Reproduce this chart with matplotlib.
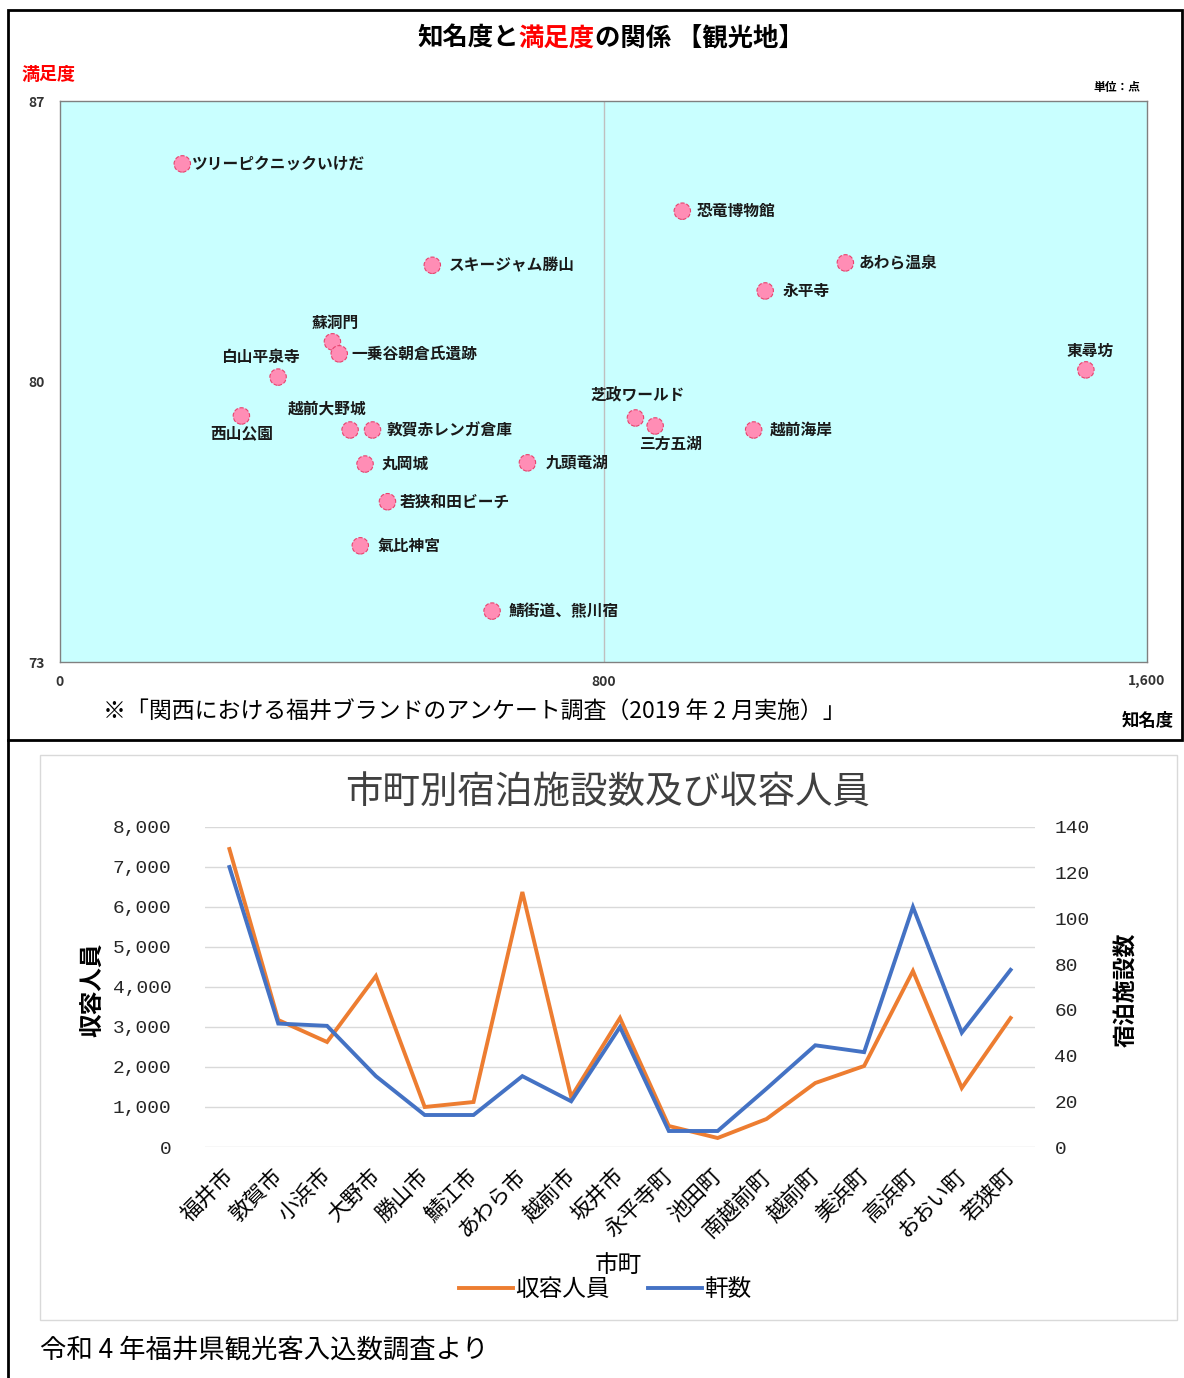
import matplotlib.pyplot as plt
from matplotlib.lines import Line2D
from matplotlib.patches import Rectangle
from matplotlib.text import Annotation
from matplotlib.ticker import FuncFormatter
from matplotlib.transforms import ScaledTranslation

plt.rcParams['font.family'] = ['Noto Sans CJK JP', 'DejaVu Sans']

W, H = 1184, 1378

# --- top chart: awareness vs satisfaction of tourist spots ---
spots = ["ツリーピクニックいけだ", "恐竜博物館", "スキージャム勝山", "あわら温泉", "永平寺",
         "蘇洞門", "一乗谷朝倉氏遺跡", "白山平泉寺", "東尋坊", "西山公園",
         "越前大野城", "敦賀赤レンガ倉庫", "芝政ワールド", "三方五湖", "越前海岸",
         "丸岡城", "九頭竜湖", "若狭和田ビーチ", "氣比神宮", "鯖街道、熊川宿"]
awareness = [180, 916, 548, 1156, 1038,
             401, 411, 321, 1510, 267,
             427, 460, 847, 876, 1021,
             449, 688, 482, 442, 636]
satisfaction = [85.43, 84.25, 82.90, 82.96, 82.26,
                80.99, 80.69, 80.11, 80.29, 79.14,
                78.79, 78.79, 79.09, 78.89, 78.79,
                77.94, 77.97, 77.00, 75.90, 74.27]

# --- bottom chart: lodging by municipality ---
towns = ["福井市", "敦賀市", "小浜市", "大野市", "勝山市", "鯖江市", "あわら市", "越前市",
         "坂井市", "永平寺町", "池田町", "南越前町", "越前町", "美浜町", "高浜町",
         "おおい町", "若狭町"]
capacity = [7450, 3175, 2625, 4275, 1000, 1125, 6375, 1250,
            3225, 525, 225, 700, 1600, 2025, 4400, 1475, 3225]
facilities = [122.5, 54, 53, 31, 14, 14, 31, 20,
              52.5, 7, 7, 25.5, 44.5, 41.5, 105, 50, 77.5]

# label placement for the scatter (pixel offsets from the point, ha)
LABEL_POS = {
    "ツリーピクニックいけだ": (10, 0, "left"),
    "恐竜博物館": (14, 0, "left"),
    "スキージャム勝山": (17, 0, "left"),
    "あわら温泉": (13, 0, "left"),
    "永平寺": (17, 0, "left"),
    "蘇洞門": (3, -19, "center"),
    "一乗谷朝倉氏遺跡": (12, 0, "left"),
    "白山平泉寺": (-18, -20, "center"),
    "東尋坊": (4, -19, "center"),
    "西山公園": (0, 17, "center"),
    "越前大野城": (-23, -21, "center"),
    "敦賀赤レンガ倉庫": (14, 0, "left"),
    "芝政ワールド": (2, -22, "center"),
    "三方五湖": (15, 18, "center"),
    "越前海岸": (16, 0, "left"),
    "丸岡城": (17, 0, "left"),
    "九頭竜湖": (18, 0, "left"),
    "若狭和田ビーチ": (12, 0, "left"),
    "氣比神宮": (17, 0, "left"),
    "鯖街道、熊川宿": (17, 0, "left"),
}


def rect(x0, y0, x1, y1):
    """pixel box (top-left origin) -> figure axes rect"""
    return [x0 / W, 1 - y1 / H, (x1 - x0) / W, (y1 - y0) / H]


def px(x, y):
    return x / W, 1 - y / H


fig = plt.figure(figsize=(W / 100, H / 100), dpi=100)

# outer frames
fig.add_artist(Rectangle(px(8, 740), (1182 - 8) / W, 730 / H, transform=fig.transFigure,
                         fill=False, edgecolor="black", linewidth=2))
fig.add_artist(Line2D([8 / W, 8 / W], [0, 1 - 740 / H], transform=fig.transFigure,
                      color="black", linewidth=2))
fig.add_artist(Rectangle(px(40, 1320), 1137 / W, 565 / H, transform=fig.transFigure,
                         fill=False, edgecolor="#d9d9d9", linewidth=1))

# =============================================================================
# scatter
# =============================================================================
ax = fig.add_axes(rect(60, 101, 1147, 662))
ax.set_facecolor("#c9ffff")
ax.set_xlim(0, 1600)
ax.set_ylim(73, 87)
ax.axvline(800, color="#bfbfbf", linewidth=1, zorder=1)
ax.scatter(awareness, satisfaction, s=140, c="#ff8db5", edgecolors="#e8426e",
           linewidths=0.8, linestyle="--", zorder=3)
for name, x, y in zip(spots, awareness, satisfaction):
    dx, dy, ha = LABEL_POS[name]
    ax.annotate(name, (x, y), xytext=(dx * 0.72, -dy * 0.72), textcoords="offset points",
                ha=ha, va="center", fontsize=11.3, fontweight="bold", color="#1a1a1a", zorder=4)

ax.set_xticks([0, 800, 1600])
ax.set_xticklabels(["0", "800", "1,600"])
ax.set_yticks([73, 80, 87])
ax.tick_params(length=0, labelsize=10, labelcolor="#333333")
ax.tick_params(axis="y", pad=11)
ax.tick_params(axis="x", pad=9)
for t in ax.get_xticklabels() + ax.get_yticklabels():
    t.set_fontweight("bold")
for s in ax.spines.values():
    s.set_color("#808080")
    s.set_linewidth(1)

# title with red middle part
t1 = fig.text(*px(417, 46), "知名度と", fontsize=18.3, fontweight="bold", ha="left", va="baseline")
a2 = fig.add_artist(Annotation("満足度", xy=(1, 0), xycoords=t1, va="bottom", ha="left",
                               fontsize=18.3, fontweight="bold", color="#ff0000"))
fig.add_artist(Annotation("の関係 【観光地】", xy=(1, 0), xycoords=a2, va="bottom", ha="left",
                          fontsize=18.3, fontweight="bold", color="black"))

fig.text(*px(22, 75), "満足度", fontsize=13, fontweight="bold", color="#ff0000", ha="left", va="center")
fig.text(*px(1140, 88), "単位：点", fontsize=8.5, fontweight="bold", ha="right", va="center")
fig.text(*px(1174, 721), "知名度", fontsize=12.5, fontweight="bold", ha="right", va="center")
fig.text(*px(103, 712), "※「関西における福井ブランドのアンケート調査（2019 年 2 月実施）」",
         fontsize=16.5, ha="left", va="center")

# =============================================================================
# lodging line chart
# =============================================================================
ORANGE = "#ed7d31"
BLUE = "#4472c4"
MONO = ["Liberation Mono", "DejaVu Sans Mono"]

bx = fig.add_axes(rect(205, 827, 1035, 1147))
xs = range(len(towns))
bx.plot(xs, capacity, color=ORANGE, linewidth=2.8, solid_joinstyle="miter", label="収容人員")
bx.set_xlim(-0.5, len(towns) - 0.5)
bx.set_ylim(0, 8000)
bx.set_yticks(range(0, 8001, 1000))
bx.yaxis.set_major_formatter(FuncFormatter(lambda v, p: f"{int(v):,}"))
bx.grid(axis="y", color="#d9d9d9", linewidth=1)
bx.set_axisbelow(True)
bx.set_xticks(list(xs))
bx.set_xticklabels(towns, rotation=45, ha="right", rotation_mode="anchor")
bx.tick_params(axis="x", length=0, pad=13, labelsize=15.5)
bx.tick_params(axis="y", length=0, pad=24, labelsize=14, labelcolor="#262626")
shift = ScaledTranslation(-7 / 100, 0, fig.dpi_scale_trans)
for t in bx.get_xticklabels():
    t.set_transform(t.get_transform() + shift)
for t in bx.get_yticklabels():
    t.set_family(MONO)

bx2 = bx.twinx()
bx2.plot(xs, facilities, color=BLUE, linewidth=2.8, solid_joinstyle="miter", label="軒数")
bx2.set_ylim(0, 140)
bx2.set_yticks(range(0, 141, 20))
bx2.tick_params(axis="y", length=0, pad=14, labelsize=14, labelcolor="#262626")
for t in bx2.get_yticklabels():
    t.set_family(MONO)

for a in (bx, bx2):
    for s in a.spines.values():
        s.set_visible(False)

fig.text(*px(608, 793), "市町別宿泊施設数及び収容人員", fontsize=27, color="#404040",
         ha="center", va="center")
fig.text(*px(92, 990), "収容人員", fontsize=17, fontweight="bold", rotation=90,
         ha="center", va="center")
fig.text(*px(1127, 990), "宿泊施設数", fontsize=16.5, fontweight="bold", rotation=90,
         ha="center", va="center")
fig.text(*px(618, 1265), "市町", fontsize=17, ha="center", va="center")

h1, l1 = bx.get_legend_handles_labels()
h2, l2 = bx2.get_legend_handles_labels()
fig.legend(h1 + h2, l1 + l2, loc="center", bbox_to_anchor=px(605, 1290), ncol=2,
           frameon=False, fontsize=17, handlelength=2.3, handletextpad=0.1, columnspacing=1.6)

fig.text(*px(40, 1350), "令和 4 年福井県観光客入込数調査より", fontsize=19, ha="left", va="center")

fig.savefig("out.png", dpi=100)
